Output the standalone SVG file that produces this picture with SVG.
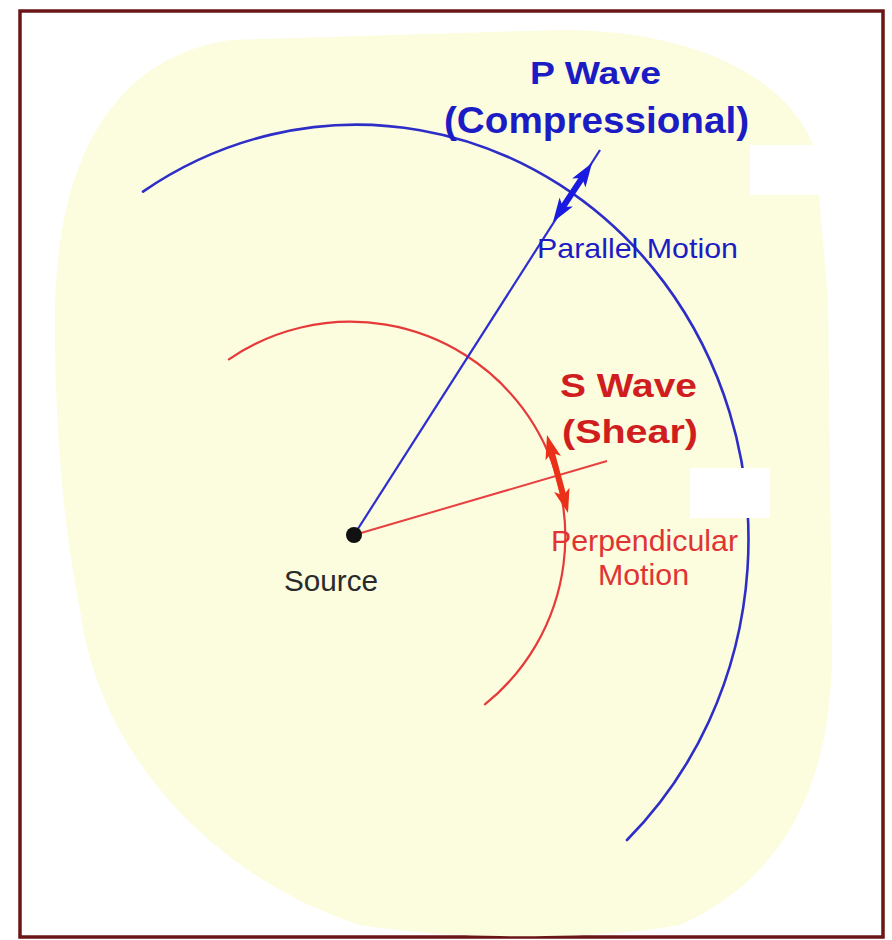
<svg xmlns="http://www.w3.org/2000/svg" width="892" height="940" viewBox="0 0 892 940">
  <defs>
    <style>
      .bold { font-family: "Liberation Sans", Arial, sans-serif; font-weight: bold; }
      .reg { font-family: "Liberation Sans", Arial, sans-serif; }
      .blue { fill: #1c1cc4; }
      .red { fill: #d01e1e; }
      .red2 { fill: #e03434; }
      .wave { fill: none; stroke-linecap: round; }
    </style>
    <marker id="headBlue" viewBox="0 0 24 16" refX="12" refY="8" markerWidth="24" markerHeight="16" markerUnits="userSpaceOnUse" orient="auto-start-reverse">
      <path d="M0,0 L24,8 L0,16 L6,8 Z" fill="#1a1ae0"/>
    </marker>
    <marker id="headRed" viewBox="0 0 24 16" refX="12" refY="8" markerWidth="24" markerHeight="17" markerUnits="userSpaceOnUse" orient="auto-start-reverse">
      <path d="M0,0 L24,8 L0,16 L6,8 Z" fill="#ea3018"/>
    </marker>
  </defs>

  <!-- frame and backdrop -->
  <rect x="0" y="0" width="892" height="940" fill="#ffffff"/>
  <rect id="frame" x="20" y="11" width="863" height="926" fill="#ffffff" stroke="#6a1616" stroke-width="3.5"/>
  <path id="backdrop" d="M55,320 C55,180 100,60 230,40 L560,30 C700,30 790,80 815,150 L828,300 L832,650 C832,790 780,880 680,925 C600,940 450,940 360,925 C220,880 100,760 80,610 C62,520 55,420 55,320 Z" fill="#fcfcde"/>

  <!-- wavefronts -->
  <g id="wavefronts">
    <path id="p-wavefront" class="wave" d="M143,191.6 A392,415 0 0,1 627,840" stroke="#2d2dc8" stroke-width="2.6"/>
    <path id="s-wavefront" class="wave" d="M228.9,359.3 A215,215 0 0,1 484.9,704.4" stroke="#e63a3a" stroke-width="2.2"/>
  </g>

  <!-- connectors: rays and particle-motion arrows -->
  <g id="connectors">
    <line id="p-ray" x1="354" y1="535" x2="600" y2="150" stroke="#2d2dd0" stroke-width="2.2"/>
    <line id="s-ray" x1="354" y1="535" x2="607" y2="461" stroke="#e84040" stroke-width="2"/>
    <line id="p-motion" x1="559.6" y1="212" x2="585.4" y2="173" stroke="#1a1ae0" stroke-width="6" marker-start="url(#headBlue)" marker-end="url(#headBlue)"/>
    <line id="s-motion" x1="550.1" y1="446.6" x2="564.9" y2="501.4" stroke="#ea3018" stroke-width="6" marker-start="url(#headRed)" marker-end="url(#headRed)"/>
  </g>

  <!-- white cover patches -->
  <rect x="750" y="145" width="72" height="50" fill="#ffffff"/>
  <rect x="690" y="468" width="80" height="50" fill="#ffffff"/>

  <!-- nodes -->
  <g id="source">
    <circle cx="354" cy="535" r="8" fill="#111111"/>
    <text class="reg" x="284" y="591" font-size="29" textLength="94" lengthAdjust="spacingAndGlyphs" fill="#2a2a2a">Source</text>
  </g>
  <g id="p-wave-label">
    <text class="bold blue" x="530" y="84" font-size="31" textLength="131" lengthAdjust="spacingAndGlyphs">P Wave</text>
    <text class="bold blue" x="444" y="133" font-size="36" textLength="305" lengthAdjust="spacingAndGlyphs">(Compressional)</text>
  </g>
  <g id="parallel-motion-label">
    <text class="reg blue" x="537" y="258" font-size="28" textLength="201" lengthAdjust="spacingAndGlyphs">Parallel Motion</text>
  </g>
  <g id="s-wave-label">
    <text class="bold red" x="560" y="397" font-size="33" textLength="137" lengthAdjust="spacingAndGlyphs">S Wave</text>
    <text class="bold red" x="562" y="443" font-size="34" textLength="136" lengthAdjust="spacingAndGlyphs">(Shear)</text>
  </g>
  <g id="perpendicular-motion-label">
    <text class="reg red2" x="551" y="551" font-size="29" textLength="187" lengthAdjust="spacingAndGlyphs">Perpendicular</text>
    <text class="reg red2" x="598" y="585" font-size="29" textLength="91" lengthAdjust="spacingAndGlyphs">Motion</text>
  </g>
</svg>
